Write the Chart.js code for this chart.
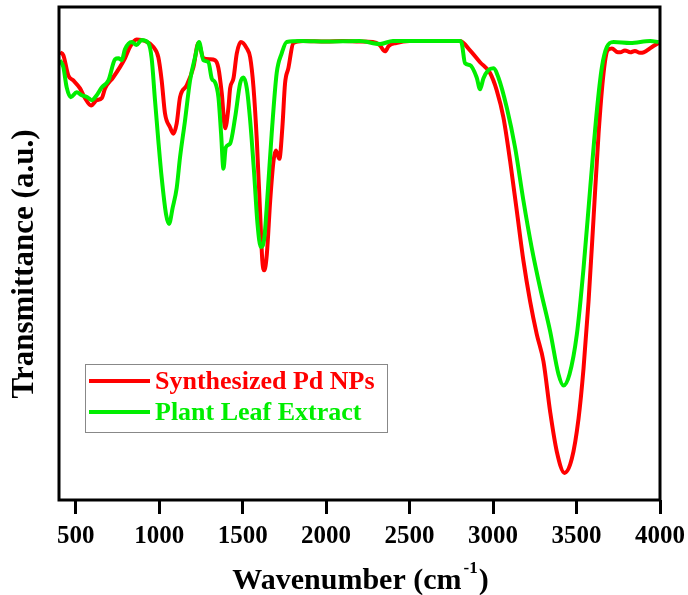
<!DOCTYPE html>
<html>
<head>
<meta charset="utf-8">
<script src="https://cdn.jsdelivr.net/npm/chart.js@4"></script>
<style>
  html, body { margin: 0; padding: 0; background: #fff; }
  #wrap { width: 688px; height: 595px; }
</style>
</head>
<body>
<div id="wrap"><canvas id="ftir"></canvas></div>
<script>
// 값은 그림에서 읽어 온 추정치 (투과율, 임의 단위)
const xTicks = [500, 1000, 1500, 2000, 2500, 3000, 3500, 4000];

const pdWavenumber = [406, 426, 456, 486, 526, 556, 592, 626, 656, 676, 724, 765, 795, 825, 865, 915, 965, 995,
    1015, 1035, 1065, 1085, 1105, 1125, 1165, 1205, 1235, 1265, 1305, 1335, 1355, 1375, 1395, 1415, 1425, 1445,
    1465, 1489, 1525, 1545, 1565, 1585, 1605, 1618, 1630, 1645, 1665, 1685, 1699, 1720, 1738, 1754, 1774, 1804,
    1862, 2000, 2100, 2200, 2280, 2320, 2353, 2375, 2420, 2500, 2600, 2700, 2803, 2862, 2922, 2982, 3022, 3062,
    3102, 3142, 3182, 3222, 3262, 3302, 3342, 3382, 3428, 3472, 3512, 3542, 3572, 3602, 3632, 3662, 3686, 3712,
    3740, 3762, 3790, 3822, 3850, 3880, 3902, 3952, 3992];
const pdTransmittance = [90.8, 90.2, 86.1, 85.1, 83.5, 81.5, 80.0, 81.1, 81.5, 83.5, 85.7, 87.8, 89.6, 91.9, 93.4, 93.1, 91.9, 89.8,
    85.1, 78.4, 75.6, 74.3, 76.4, 81.7, 84.1, 87.8, 92.7, 89.6, 89.4, 89.2, 87.6, 82.5, 75.4, 79.6, 83.5, 85.5,
    90.6, 92.9, 91.6, 89.8, 83.7, 72.9, 58.0, 48.5, 46.6, 49.9, 60.7, 68.8, 70.9, 69.2, 75.6, 84.5, 87.6, 92.7,
    93.1, 93.0, 93.1, 93.0, 92.9, 92.3, 91.0, 92.1, 92.7, 93.1, 93.1, 93.1, 93.1, 91.2, 88.8, 86.6, 83.1, 77.6,
    68.8, 58.7, 48.5, 40.3, 33.6, 28.1, 17.9, 9.8, 5.5, 8.4, 16.5, 26.7, 40.3, 57.2, 74.3, 86.6, 91.2, 91.6,
    90.9, 90.8, 91.2, 90.8, 91.1, 90.7, 90.8, 91.9, 92.7];

const leafWavenumber = [406, 426, 446, 470, 506, 536, 570, 596, 626, 656, 696, 736, 756, 776, 795, 835, 865, 895, 935,
    955, 975, 995, 1015, 1041, 1059, 1081, 1105, 1125, 1155, 1185, 1215, 1239, 1265, 1295, 1315, 1335, 1355,
    1371, 1385, 1399, 1425, 1455, 1485, 1505, 1525, 1545, 1569, 1589, 1609, 1630, 1648, 1674, 1704, 1734, 1764,
    1850, 2000, 2200, 2323, 2400, 2600, 2800, 2812, 2832, 2862, 2902, 2922, 2942, 2972, 3002, 3032, 3082, 3132,
    3182, 3232, 3282, 3342, 3392, 3422, 3458, 3502, 3542, 3582, 3622, 3652, 3682, 3722, 3822, 3942, 3992];
const leafTransmittance = [89.2, 87.8, 83.7, 81.7, 82.7, 82.1, 81.7, 81.1, 82.1, 83.7, 85.1, 89.4, 89.6, 89.2, 91.4, 92.9, 92.3, 93.3, 92.7,
    89.6, 81.1, 72.9, 65.4, 58.0, 56.0, 59.3, 63.3, 69.5, 77.0, 85.1, 89.8, 92.9, 89.2, 88.8, 85.5, 84.7, 81.7,
    74.3, 67.2, 71.5, 72.3, 77.6, 84.5, 85.7, 83.5, 77.0, 66.2, 56.0, 51.3, 53.2, 61.3, 74.3, 86.6, 90.6, 92.9,
    93.1, 93.0, 93.1, 92.5, 93.1, 93.1, 93.1, 92.7, 88.6, 88.2, 85.7, 83.3, 85.5, 87.2, 87.6, 85.7, 79.6, 71.5,
    60.7, 51.1, 43.0, 34.2, 25.5, 23.2, 25.5, 33.6, 47.0, 63.3, 79.0, 87.8, 91.9, 92.9, 92.7, 93.1, 92.9];

const RED = '#ff0000';
const GREEN = '#00ee00';
const SERIF = '"Liberation Serif", "Times New Roman", serif';
const Y_TITLE = 'Transmittance (a.u.)';

function toPoints(xs, ys) {
    return xs.map((x, i) => ({ x: x, y: ys[i] }));
}

// 검은 테두리(위/오른쪽 포함), 축 제목, 범례를 직접 그림
const framePlugin = {
    id: 'frame',
    afterDatasetsDraw(chart) {
        const { ctx, chartArea: a } = chart;
        ctx.save();
        ctx.strokeStyle = '#000';
        ctx.lineWidth = 3;
        ctx.strokeRect(a.left, a.top, a.right - a.left, a.bottom - a.top);

        // y축 제목
        ctx.save();
        ctx.translate(25, 264);
        ctx.rotate(-Math.PI / 2);
        ctx.fillStyle = '#000';
        ctx.font = 'bold 31px ' + SERIF;
        ctx.textAlign = 'center';
        ctx.textBaseline = 'middle';
        ctx.fillText(Y_TITLE, 0, 0);
        ctx.restore();

        // x축 제목: Wavenumber (cm^-1)
        ctx.fillStyle = '#000';
        ctx.textBaseline = 'alphabetic';
        const big = 'bold 30px ' + SERIF;
        const small = 'bold 17px ' + SERIF;
        const p1 = 'Wavenumber (cm', p2 = '-1', p3 = ')';
        ctx.font = big;
        const w1 = ctx.measureText(p1).width, w3 = ctx.measureText(p3).width;
        ctx.font = small;
        const w2 = ctx.measureText(p2).width;
        let x = 359 - (w1 + w2 + w3) / 2;
        const y = 589;
        ctx.font = big; ctx.fillText(p1, x, y); x += w1;
        ctx.font = small; ctx.fillText(p2, x + 2, y - 16); x += w2 + 3;
        ctx.font = big; ctx.fillText(p3, x, y);

        // 범례
        ctx.strokeStyle = '#888';
        ctx.lineWidth = 1;
        ctx.strokeRect(85.5, 364.5, 302, 68);
        ctx.font = 'bold 26px ' + SERIF;
        ctx.textBaseline = 'middle';
        const rows = [chart.data.datasets[0], chart.data.datasets[1]];
        rows.forEach((ds, i) => {
            const yy = 381 + i * 31;
            ctx.strokeStyle = ds.borderColor;
            ctx.lineWidth = 4;
            ctx.beginPath();
            ctx.moveTo(89, yy);
            ctx.lineTo(150, yy);
            ctx.stroke();
            ctx.fillStyle = ds.borderColor;
            ctx.fillText(ds.label, 155, yy + 1);
        });
        ctx.restore();
    }
};

const ctx = document.getElementById('ftir').getContext('2d');
new Chart(ctx, {
    type: 'line',
    data: {
        datasets: [{
            label: 'Synthesized Pd NPs',
            data: toPoints(pdWavenumber, pdTransmittance),
            borderColor: RED,
            borderWidth: 4,
            pointRadius: 0,
            cubicInterpolationMode: 'monotone',
            fill: false,
            order: 1
        }, {
            label: 'Plant Leaf Extract',
            data: toPoints(leafWavenumber, leafTransmittance),
            borderColor: GREEN,
            borderWidth: 4,
            pointRadius: 0,
            cubicInterpolationMode: 'monotone',
            fill: false,
            order: 0
        }]
    },
    options: {
        responsive: true,
        maintainAspectRatio: false,
        animation: false,
        layout: { padding: { top: 7, right: 28, left: 0, bottom: 0 } },
        plugins: {
            legend: { display: false },
            tooltip: { enabled: false }
        },
        scales: {
            x: {
                type: 'linear',
                min: 400,
                max: 4000,
                afterBuildTicks: function(axis) {
                    axis.ticks = xTicks.map(v => ({ value: v }));
                },
                afterFit: function(axis) {
                    axis.height = 95;
                    axis.paddingLeft = 0;  // 마지막 라벨 때문에 차트 영역이 줄어드는 것 방지
                    axis.paddingRight = 0;
                },
                border: { display: false },
                grid: {
                    drawOnChartArea: false,
                    drawTicks: true,
                    tickLength: 14,
                    tickWidth: 3,
                    tickColor: '#000'
                },
                ticks: {
                    color: '#000',
                    padding: 8,
                    maxRotation: 0,
                    font: { family: SERIF, size: 25, weight: 'bold' },
                    callback: function(value) {
                        return String(value); // 천 단위 콤마 없이 표시
                    }
                }
            },
            y: {
                min: 0,
                max: 100,
                afterFit: function(axis) {
                    axis.width = 59;
                },
                border: { display: false },
                grid: { display: false },
                ticks: { display: false },
                title: { display: false }
            }
        }
    },
    plugins: [framePlugin]
});
</script>
</body>
</html>
